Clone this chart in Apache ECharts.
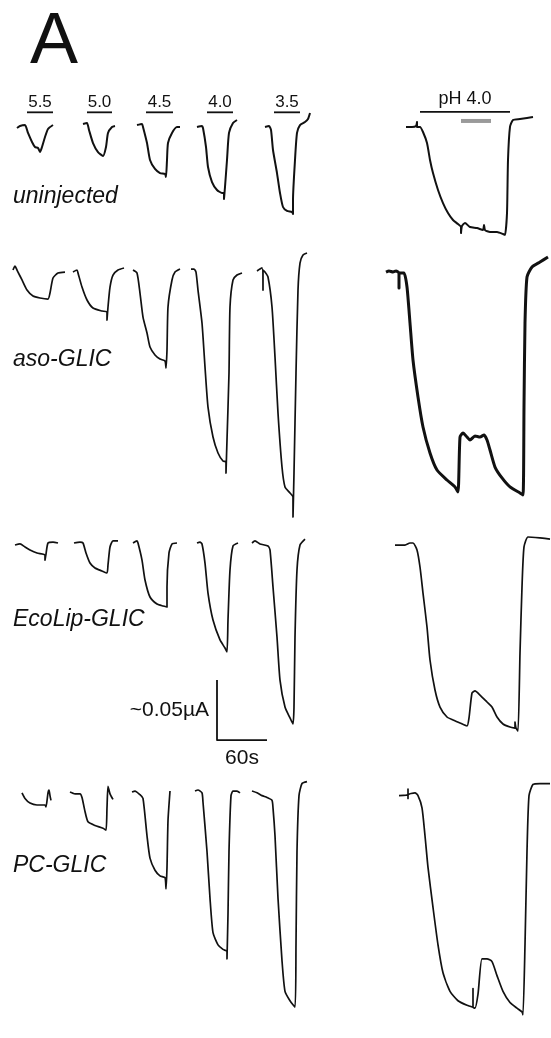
<!DOCTYPE html>
<html>
<head>
<meta charset="utf-8">
<script src="https://cdn.jsdelivr.net/npm/echarts@6/dist/echarts.min.js"></script>
<style>
  html, body { margin: 0; padding: 0; background: #fff; }
  #chart { width: 551px; height: 1038px; }
</style>
</head>
<body>
<div id="chart"></div>
<script>
// Oocyte currents evoked by pH steps. Time in seconds, current in nA (inward = negative).
const panelLetter = 'A';
const rowNames = ['uninjected', 'aso-GLIC', 'EcoLip-GLIC', 'PC-GLIC'];
const pHLevels = ['5.5', '5.0', '4.5', '4.0', '3.5'];
// application periods of each pH step (s)
const pHWindows = [[32.4, 63.6], [104.4, 134.4], [175.2, 207.6], [248.4, 279.6], [328.8, 360]];
const longLabel = 'pH 4.0';
const longWindow = [504, 612];
const greyWindow = [553.2, 589.2];
// scale bar: 60 s and ~0.05 µA (50 nA)
const scaleTime = 60;
const scaleCurrent = 50;
const scaleTimeLabel = '60s';
const scaleCurrentLabel = '~0.05µA';

const uninjected = [
  [[20.4,-1.7],[24,0],[30,0.8],[33.6,-5.8],[38.4,-13.3],[42,-17.5],[45.6,-18.3],[48,-21.7],[50.4,-17.5],[54,-9.2],[57.6,-2.5],[63.6,0.8]],
  [[99.6,1.7],[104.4,2.5],[106.8,-3.3],[111.6,-14.2],[117.6,-21.7],[123.6,-25],[127.2,-17.5],[129.6,-5.8],[134.4,-0.8],[138,0]],
  [[164.4,0.8],[170.4,1.7],[171.6,-0.8],[176.4,-14.2],[180,-28.3],[186,-35.8],[192,-39.2],[198,-40],[199.2,-42.5],[200.4,-28.3],[201.6,-14.2],[206.4,-5.8],[212.4,-0.8],[216,-0.8]],
  [[236.4,-0.8],[242.4,0],[243.6,-1.7],[247.2,-17.5],[249.6,-34.2],[254.4,-46.7],[260.4,-53.3],[266.4,-55.8],[268.8,-55.8],[268.8,-60.8],[270,-50.8],[272.4,-28.3],[274.8,-5.8],[279.6,2.5],[284.4,5]],
  [[318,-0.8],[322.8,0],[325.2,-3.3],[327.6,-20],[332.4,-39.2],[336,-55.8],[339.6,-67.5],[344.4,-70.8],[350.4,-71.7],[351.6,-73.3],[351.6,-61.7],[354,-28.3],[356.4,-5.8],[360,0.8],[366,3.3],[369.6,5.8],[372,10.8]],
  [[487.2,-0.8],[494.4,-0.8],[499.2,0],[500.4,3.3],[500.4,-0.8],[504,-0.8],[507.6,-5],[512.4,-14.2],[516,-28.3],[519.6,-39.2],[525.6,-53.3],[531.6,-64.2],[537.6,-72.5],[543.6,-78.3],[549.6,-81.7],[553.2,-84.2],[553.2,-89.2],[554.4,-83.3],[558,-80.8],[564,-84.2],[572.4,-85],[579.6,-86.7],[580.8,-82.5],[582,-86.7],[588,-88.3],[596.4,-88.3],[603.6,-90],[606,-90.8],[608.4,-72.5],[609.6,-28.3],[612,-0.8],[615.6,5],[624,5.8],[632.4,6.7],[639.6,7.5]]
];

const asoGLIC = [
  [[15.6,0],[18,3.3],[20.4,0],[21.6,-1.7],[26.4,-8.3],[32.4,-16.7],[39.6,-21.7],[48,-23.3],[57.6,-24.2],[60,-19.2],[63.6,-6.7],[69.6,-2.5],[78,-1.7]],
  [[87.6,-1.7],[92.4,0],[93.6,-2.5],[98.4,-14.2],[104.4,-25],[111.6,-31.7],[122.4,-34.2],[128.4,-35],[128.4,-41.7],[129.6,-30.8],[132,-14.2],[135.6,-4.2],[141.6,0],[148.8,1.7]],
  [[159.6,0],[164.4,-2.5],[168,-19.2],[171.6,-39.2],[176.4,-52.5],[180,-64.2],[186,-70.8],[192,-74.2],[198,-75.8],[199.2,-81.7],[200.4,-66.7],[201.6,-30.8],[206.4,-8.3],[210,-1.7],[216,0.8]],
  [[229.2,0.8],[232.8,0.8],[235.2,-1.7],[237.6,-16.7],[242.4,-44.2],[246,-80.8],[249.6,-114.2],[255.6,-139.2],[261.6,-152.5],[267.6,-159.2],[271.2,-160],[271.2,-169.2],[272.4,-141.7],[274.8,-85.8],[276,-30.8],[279.6,-8.3],[284.4,-4.2],[290.4,-2.5]],
  [[308.4,-0.8],[314.4,1.7],[315.6,-16.7],[315.6,0],[318,-1.7],[321.6,-5.8],[326.4,-30.8],[330,-72.5],[333.6,-119.2],[338.4,-164.2],[342,-180.8],[348,-185.8],[351.6,-189.2],[351.6,-205.8],[352.8,-169.2],[355.2,-85.8],[357.6,-16.7],[360,5.8],[363.6,12.5],[368.4,14.2]],
  [[463.2,-1.7],[466.8,-0.8],[471.6,-1.7],[475.2,-0.8],[478.8,-2.5],[478.8,-15],[478.8,-2.5],[484.8,-2.5],[488.4,-14.2],[492,-44.2],[495.6,-75],[501.6,-105.8],[507.6,-130.8],[516,-152.5],[524.4,-166.7],[536.4,-175],[546,-180.8],[549.6,-185],[552,-139.2],[555.6,-135.8],[560.4,-139.2],[564,-141.7],[570,-138.3],[576,-139.2],[580.8,-137.5],[584.4,-141.7],[588,-150],[594,-164.2],[602.4,-173.3],[612,-180.8],[624,-185.8],[627.6,-187.5],[628.8,-114.2],[630,-44.2],[632.4,-5.8],[638.4,2.5],[648,6.7],[657.6,10.8]]
];

const ecoLipGLIC = [
  [[18,-1.7],[24,-0.8],[30,-3.3],[36,-5.8],[44.4,-8.3],[54,-10],[54,-14.2],[55.2,-9.2],[57.6,0],[63.6,0.8],[69.6,0]],
  [[88.8,0],[96,0.8],[99.6,0],[103.2,-8.3],[108,-16.7],[114,-20.8],[122.4,-23.3],[128.4,-25],[129.6,-18.3],[132,-3.3],[135.6,1.7],[141.6,1.7]],
  [[159.6,0],[164.4,1.7],[165.6,0],[170.4,-14.2],[174,-30.8],[180,-45],[188.4,-50.8],[195.6,-52.5],[200.4,-53.3],[200.4,-36.7],[202.8,-8.3],[206.4,-0.8],[212.4,0]],
  [[236.4,0],[240,0.8],[242.4,-0.8],[246,-16.7],[249.6,-41.7],[255.6,-64.2],[264,-80.8],[270,-87.5],[272.4,-90.8],[273.6,-64.2],[276,-22.5],[279.6,-2.5],[285.6,0]],
  [[302.4,0],[306,1.7],[312,-0.8],[321.6,-2.5],[324,-5.8],[327.6,-36.7],[332.4,-78.3],[336,-114.2],[342,-136.7],[348,-145.8],[351.6,-150.8],[352.8,-136.7],[354,-78.3],[356.4,-22.5],[360,-1.7],[366,3.3]],
  [[474,-1.7],[486,-1.7],[492,0],[495.6,0],[500.4,-5.8],[504,-20],[507.6,-41.7],[512.4,-70],[516,-97.5],[522,-122.5],[528,-136.7],[536.4,-145],[543.6,-147.5],[552,-150],[560.4,-152.5],[562.8,-145.8],[566.4,-125],[570,-123.3],[576,-126.7],[584.4,-132.5],[590.4,-136.7],[596.4,-145],[603.6,-150.8],[612,-153.3],[618,-154.2],[618,-149.2],[619.2,-154.2],[621.6,-156.7],[624,-91.7],[626.4,-36.7],[628.8,-3.3],[633.6,5],[648,4.2],[660,3.3]]
];

const pcGLIC = [
  [[26.4,-0.8],[30,-5.8],[36,-10],[44.4,-11.7],[54,-11.7],[55.2,-13.3],[57.6,-0.8],[58.8,1.7],[60,-3.3],[61.2,-7.5]],
  [[84,0],[90,-1.7],[96,-1.7],[98.4,-5],[102,-17.5],[105.6,-26.7],[114,-30],[123.6,-32.5],[127.2,-34.2],[128.4,-14.2],[129.6,5],[132,-1.7],[135.6,-6.7]],
  [[158.4,0],[162,0.8],[168,-2.5],[171.6,-5.8],[176.4,-39.2],[180,-59.2],[186,-70],[192,-75],[198,-76.7],[199.2,-86.7],[200.4,-67.5],[201.6,-25.8],[204,0.8]],
  [[234,0.8],[237.6,1.7],[242.4,-0.8],[243.6,-9.2],[248.4,-53.3],[252,-95],[255.6,-125.8],[261.6,-136.7],[267.6,-140.8],[272.4,-142.5],[272.4,-149.2],[273.6,-109.2],[274.8,-53.3],[277.2,-3.3],[279.6,0.8],[284.4,0.8],[288,-0.8]],
  [[302.4,0.8],[308.4,-0.8],[314.4,-3.3],[320.4,-5],[326.4,-7.5],[327.6,-14.2],[330,-39.2],[333.6,-95],[338.4,-150.8],[342,-178.3],[348,-186.7],[354,-192.5],[355.2,-136.7],[356.4,-53.3],[358.8,-3.3],[362.4,7.5],[368.4,9.2]],
  [[478.8,-3.3],[489.6,-2.5],[489.6,2.5],[489.6,-5.8],[489.6,-2.5],[498,-0.8],[501.6,-3.3],[506.4,-14.2],[510,-39.2],[513.6,-67.5],[519.6,-103.3],[525.6,-136.7],[531.6,-161.7],[540,-178.3],[549.6,-186.7],[560.4,-190.8],[567.6,-192.5],[567.6,-175.8],[567.6,-192.5],[570,-193.3],[573.6,-180.8],[578.4,-149.2],[584.4,-149.2],[590.4,-151.7],[596.4,-164.2],[603.6,-178.3],[612,-188.3],[620.4,-193.3],[626.4,-196.7],[627.6,-199.2],[630,-136.7],[632.4,-53.3],[634.8,-3.3],[639.6,6.7],[648,7.5],[660,7.5]]
];

const rows = [uninjected, asoGLIC, ecoLipGLIC, pcGLIC];

// ---- layout ----
const W = 551;
const FONT = '"Liberation Sans", Arial, Helvetica, sans-serif';
const INK = '#111';
const X_MAX = 661.2;                 // seconds across the full width
const Y_MIN = -220, Y_MAX = 50;      // nA shown in each row band
const PX_PER_NA = 1.2;
const rowBaselinePx = [126, 270, 543, 796];
const rowLabelY = [197, 360, 620, 866];

const grid = [], xAxis = [], yAxis = [];
rowBaselinePx.forEach((b, i) => {
  grid.push({ left: 0, width: W, top: b - Y_MAX * PX_PER_NA, height: (Y_MAX - Y_MIN) * PX_PER_NA });
  xAxis.push({ gridIndex: i, type: 'value', min: 0, max: X_MAX, show: false });
  yAxis.push({ gridIndex: i, type: 'value', min: Y_MIN, max: Y_MAX, show: false });
});

const series = [];
function path(r, data, width, color, smooth) {
  series.push({
    type: 'line', xAxisIndex: r, yAxisIndex: r, data,
    symbol: 'none', showSymbol: false, clip: false, silent: true,
    smooth: smooth || false,
    lineStyle: { color: color || INK, width: width || 1.7, cap: 'butt', join: 'round' }
  });
}
function text(r, value, str, position, distance, size) {
  series.push({
    type: 'scatter', xAxisIndex: r, yAxisIndex: r, silent: true, clip: false,
    symbolSize: 0, itemStyle: { color: INK, opacity: 1 },
    data: [{ value, label: { show: true, formatter: str, position, distance,
      color: INK, opacity: 1, fontSize: size, fontFamily: FONT } }]
  });
}

// current traces (the long aso-GLIC recording is noisier, drawn heavier)
rows.forEach((traces, r) => {
  traces.forEach((tr, k) => {
    const heavy = (r === 1 && k === 5);
    path(r, tr, heavy ? 3 : (r === 0 ? 2 : 1.7), INK, 0.2);
  });
});

// pH application bars over the first row
const BAR_Y = 11.4, LONG_Y = 11.7, GREY_Y = 4.2;
pHWindows.forEach((w, i) => {
  path(0, [[w[0], BAR_Y], [w[1], BAR_Y]], 1.8);
  text(0, [(w[0] + w[1]) / 2, BAR_Y], pHLevels[i], 'top', 2, 17);
});
path(0, [[longWindow[0], LONG_Y], [longWindow[1], LONG_Y]], 1.8);
text(0, [(longWindow[0] + longWindow[1]) / 2, LONG_Y], longLabel, 'top', 4, 18);
path(0, [[greyWindow[0], GREY_Y], [greyWindow[1], GREY_Y]], 4, '#9a9a9a');

// scale bar in the EcoLip row
const SB_T = 260.4, SB_I = -164.2;
path(2, [[SB_T, SB_I + scaleCurrent], [SB_T, SB_I], [SB_T + scaleTime, SB_I]], 1.8);
text(2, [SB_T, SB_I + scaleCurrent / 2], scaleCurrentLabel, 'left', 8, 21);
text(2, [SB_T + scaleTime / 2, SB_I], scaleTimeLabel, 'bottom', 8, 21);

const graphic = [
  { type: 'text', x: 30, y: 43, style: { text: panelLetter, font: '72px ' + FONT, fill: INK, verticalAlign: 'middle' } }
].concat(rowNames.map((n, i) => ({
  type: 'text', x: 13, y: rowLabelY[i],
  style: { text: n, font: 'italic 23px ' + FONT, fill: INK, verticalAlign: 'middle' }
})));

const chart = echarts.init(document.getElementById('chart'), null, { renderer: 'canvas' });
chart.setOption({
  animation: false,
  backgroundColor: '#fff',
  grid, xAxis, yAxis, series, graphic
});
</script>
</body>
</html>
